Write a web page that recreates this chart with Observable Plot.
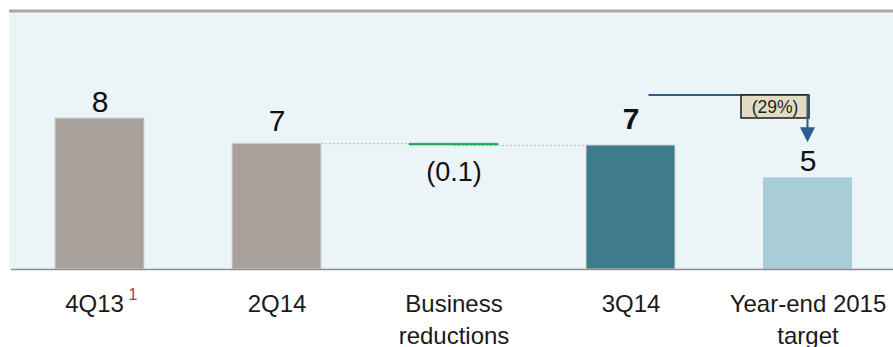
<!DOCTYPE html>
<html>
<head>
<meta charset="utf-8">
<script src="https://cdn.jsdelivr.net/npm/d3@7"></script>
<script src="https://cdn.jsdelivr.net/npm/@observablehq/plot@0.6"></script>
<style>
  html, body { margin: 0; padding: 0; background: #ffffff; }
  svg { display: block; }
</style>
</head>
<body>
<div id="chart"></div>
<script>
// ---- data ----
const categories = ["4Q13", "2Q14", "Business\nreductions", "3Q14", "Year-end 2015\ntarget"];
const values = [8.4, 7.0, -0.1, 6.9, 5.1];
const kinds = ["total", "total", "delta", "total", "target"];
const valueLabels = ["8", "7", "(0.1)", "7", "5"];
const changeLabel = "(29%)";
const footnoteMark = "1";
const yTop = 14.3;

// ---- styles ----
const fills = {total: "#A9A19B", delta: "#1FAA52", current: "#3D7B8D", target: "#A8CDD7"};

// build waterfall rows
let running = 0;
const rows = categories.map((cat, i) => {
  let y1, y2;
  if (kinds[i] === "delta") { y1 = running; y2 = running + values[i]; running = y2; }
  else { y1 = 0; y2 = values[i]; running = values[i]; }
  const fillKey = kinds[i] === "delta" ? "delta" : kinds[i] === "target" ? "target" : (i === 3 ? "current" : "total");
  return {cat, i, y1, y2, label: valueLabels[i], fill: fills[fillKey], kind: kinds[i]};
});
const connectors = rows.slice(1, -1).filter((r, k) => k < 2).map(r => ({from: r.cat, to: categories[r.i + 1], y: r.y2}));

const font = "'Liberation Sans', Arial, sans-serif";

const plot = Plot.plot({
  width: 893,
  height: 347,
  marginTop: 12,
  marginBottom: 78,
  marginLeft: 11,
  marginRight: -3,
  style: {fontFamily: font, background: "white", overflow: "visible"},
  x: {domain: categories, type: "band", paddingInner: 0.5, paddingOuter: 0.25, axis: null},
  y: {domain: [0, yTop], axis: null},
  marks: [
    Plot.frame({fill: "#EBF4F7", stroke: null, insetLeft: -2}),
    Plot.ruleY([yTop], {stroke: "#ADA5A0", strokeWidth: 3, dy: -1.5, insetLeft: -2}),
    Plot.link(connectors, {x1: "from", x2: "to", y1: "y", y2: "y", stroke: "#BDBDBD", strokeWidth: 1, strokeDasharray: "2,2"}),
    Plot.rectY(rows.filter(r => r.kind !== "delta"), {x: "cat", y1: "y1", y2: "y2", fill: "fill",
      stroke: d => d.kind === "target" ? "none" : "#D8D4D0", strokeWidth: 1}),
    Plot.rectY(rows.filter(r => r.kind === "delta"), {x: "cat", y1: "y1", y2: "y2", fill: "fill", stroke: "fill", strokeWidth: 0.6}),
    Plot.ruleY([0], {stroke: "#8E8E8E", strokeWidth: 1.5}),
    // value labels
    Plot.text(rows.filter(r => r.i === 0 || r.i === 4), {x: "cat", y: "y2", text: "label", lineAnchor: "bottom", dy: -7, fontSize: 30, fill: "#111"}),
    Plot.text(rows.filter(r => r.i === 1), {x: "cat", y: "y2", text: "label", lineAnchor: "bottom", dy: -13, fontSize: 30, fill: "#111"}),
    Plot.text(rows.filter(r => r.i === 3), {x: "cat", y: "y2", text: "label", lineAnchor: "bottom", dy: -16, fontSize: 30, fontWeight: "bold", fill: "#111"}),
    Plot.text(rows.filter(r => r.kind === "delta"), {x: "cat", y: "y2", text: "label", lineAnchor: "top", dy: 16, fontSize: 27, fill: "#111"}),
    // category labels
    Plot.text(categories.slice(1), {x: d => d, text: d => d, frameAnchor: "bottom", lineAnchor: "top", dy: 19.3, fontSize: 24, lineHeight: 1.333, fill: "#1a1a1a"}),
    Plot.text(categories.slice(0, 1), {x: d => d, text: d => d, frameAnchor: "bottom", lineAnchor: "top", dy: 25, dx: -5.5, fontSize: 24, fill: "#1a1a1a"}),
    Plot.text(categories.slice(0, 1), {x: d => d, text: () => footnoteMark, frameAnchor: "bottom", lineAnchor: "top", dy: 19, dx: 33, fontSize: 16, fill: "#C0304A"})
  ]
});

document.getElementById("chart").appendChild(plot);

// change annotation (arrow + boxed percentage), positioned through the plot's scales
const sx = plot.scale("x"), sy = plot.scale("y");
const cx = c => sx.apply(c) + sx.bandwidth / 2;
const xStart = cx(categories[3]) + 18;
const xEnd = cx(categories[4]);
const yLevel = sy.apply(rows[3].y2) - 50;
const yTip = sy.apply(rows[4].y2) - 35;
const blue = "#2B5D8C";
const g = d3.select(plot).append("g");
g.append("path").attr("d", `M${xStart},${yLevel}H${xEnd}`).attr("stroke", blue).attr("stroke-width", 2).attr("fill", "none");
g.append("rect").attr("x", xEnd + 1.5 - 68).attr("y", yLevel).attr("width", 68).attr("height", 23)
  .attr("fill", "#E2DCC5").attr("stroke", "#1a1a1a").attr("stroke-width", 1.5);
g.append("text").attr("x", xEnd + 1.5 - 34).attr("y", yLevel + 11.5).attr("dy", "0.35em")
  .attr("text-anchor", "middle").attr("font-size", 17.5).attr("font-family", font).attr("fill", "#222").text(changeLabel);
g.append("path").attr("d", `M${xEnd},${yLevel}V${yTip - 14}`).attr("stroke", blue).attr("stroke-width", 2).attr("fill", "none");
g.append("path").attr("d", `M${xEnd - 7.5},${yTip - 15}L${xEnd + 7.5},${yTip - 15}L${xEnd},${yTip}Z`).attr("fill", blue);
</script>
</body>
</html>
